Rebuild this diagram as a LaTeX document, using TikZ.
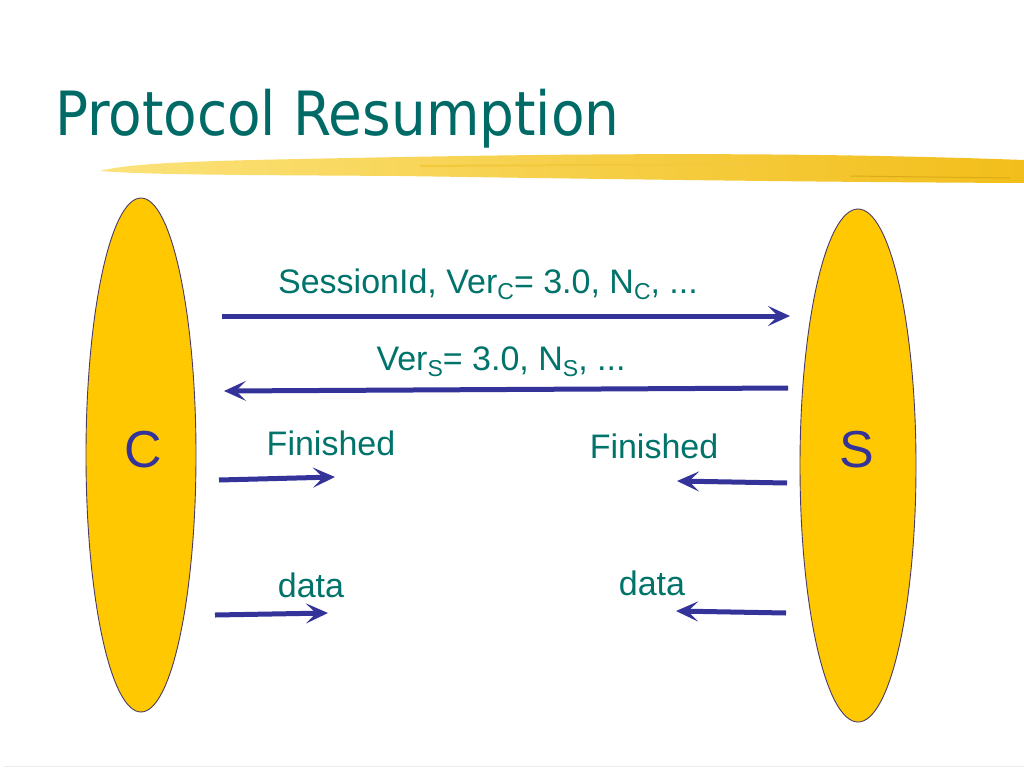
\documentclass[tikz,border=0pt]{standalone}
\usepackage{fontspec}
\setmainfont{Liberation Sans}
\newfontfamily\titlefont{DejaVu Sans Condensed}
\usetikzlibrary{arrows.meta,shapes.geometric}
\definecolor{teal1}{HTML}{00736B}
\definecolor{titlec}{HTML}{006B66}
\definecolor{gold}{HTML}{FFC800}
\definecolor{edge}{HTML}{4A3A6A}
\definecolor{arrowc}{HTML}{33339A}
\definecolor{brushA}{HTML}{FBE27A}
\definecolor{brushB}{HTML}{F2BE1A}
\newcommand{\sbs}[1]{\raisebox{-0.35ex}{\fontsize{23}{23}\selectfont #1}}
\begin{document}
\begin{tikzpicture}[x=1pt,y=-1pt,
  party/.style={draw=edge,line width=0.9pt,fill=gold,ellipse},
  msg/.style={draw=arrowc,line width=5pt,-{Stealth[length=22pt,width=20pt,inset=10pt]}},
  lbl/.style={text=teal1,font=\fontsize{34}{40}\selectfont,inner sep=0pt,anchor=base},
  big/.style={text=arrowc,font=\fontsize{52}{56}\selectfont,inner sep=0pt}]
\useasboundingbox (0,0) rectangle (1024,768);
\fill[white] (0,0) rectangle (1024,768);
% title
\node[text=titlec,font=\titlefont\fontsize{61}{66}\selectfont,anchor=base west,inner sep=0pt] (title) at (55,135) {Protocol Resumption};
% brush stroke
\shade[left color=brushA,right color=brushB]
  (100,171) .. controls (130,163) and (200,161) .. (300,159)
  .. controls (500,155) and (750,150) .. (1024,160)
  -- (1024,183) .. controls (800,182) and (600,179) .. (400,176)
  .. controls (250,175) and (150,175) .. (100,171) -- cycle;
\draw[brushB!85!white,line width=2pt] (420,166) -- (760,164);
\draw[brushB!90!black,line width=1pt] (850,176) -- (1010,178);
% bottom line
\draw[gray!15,line width=1pt] (4,766.5) -- (1024,766.5);
% parties
\node[party,minimum width=110pt,minimum height=514pt] (C) at (141,455) {};
\node[party,minimum width=116pt,minimum height=513pt] (S) at (858,465.5) {};
\node[big] at (143,450) {C};
\node[big] at (857,450) {S};
% connector coordinates
\coordinate (a1s) at (222,316); \coordinate (a1e) at (790,316);
\coordinate (a2s) at (788,388); \coordinate (a2e) at (224,391);
\coordinate (a3s) at (219,480); \coordinate (a3e) at (335,477);
\coordinate (a4s) at (787,483); \coordinate (a4e) at (677,481);
\coordinate (a5s) at (215,615); \coordinate (a5e) at (328,613);
\coordinate (a6s) at (786,613); \coordinate (a6e) at (676,611);
\draw[msg] (a1s) -- (a1e);
\draw[msg] (a2s) -- (a2e);
\draw[msg] (a3s) -- (a3e);
\draw[msg] (a4s) -- (a4e);
\draw[msg] (a5s) -- (a5e);
\draw[msg] (a6s) -- (a6e);
% labels
\node[lbl] (l1) at (488,293) {SessionId, Ver\sbs{C}= 3.0, N\sbs{C}, ...};
\node[lbl] (l2) at (501,370) {Ver\sbs{S}= 3.0, N\sbs{S}, ...};
\node[lbl] (l3) at (331,455) {Finished};
\node[lbl] (l4) at (654,458) {Finished};
\node[lbl] (l5) at (311,597) {data};
\node[lbl] (l6) at (652,595) {data};
\end{tikzpicture}
\end{document}
